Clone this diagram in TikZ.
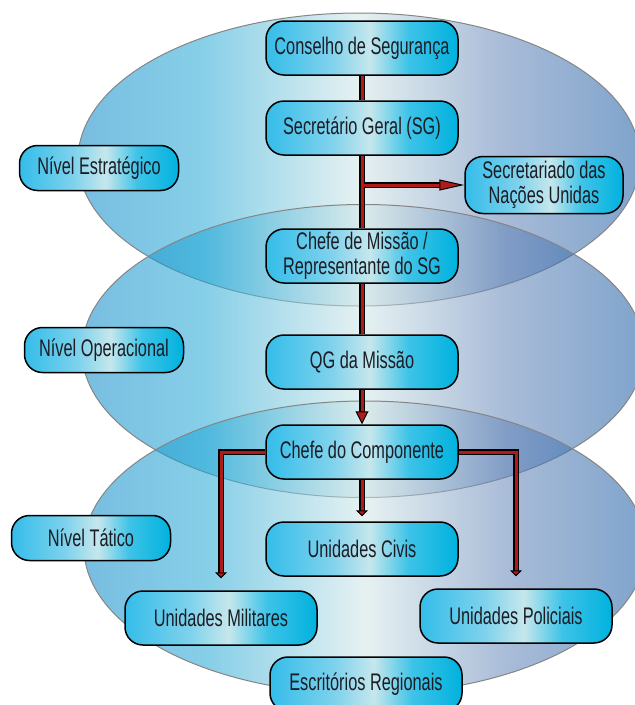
\documentclass[tikz,border=0pt]{standalone}
\usepackage{fontspec}
\setmainfont[FakeStretch=0.68]{Liberation Sans}
\usetikzlibrary{arrows.meta}
\definecolor{e0}{HTML}{0987C7}
\definecolor{e1}{HTML}{23A7D5}
\definecolor{e2}{HTML}{D1E6E6}
\definecolor{e3}{HTML}{6385B8}
\definecolor{e4}{HTML}{1658A2}
\definecolor{b0}{HTML}{34BDEA}
\definecolor{b1}{HTML}{7FD2EC}
\definecolor{b2}{HTML}{C6E7EC}
\definecolor{b3}{HTML}{3EC3E8}
\definecolor{b4}{HTML}{00B2DE}
\definecolor{linkred}{HTML}{B01A1A}
\definecolor{ink}{HTML}{1C1C24}
\definecolor{ellborder}{HTML}{858585}
\pgfdeclarehorizontalshading{ellshade}{100bp}{color(0bp)=(e0); color(25bp)=(e0); color(36bp)=(e1); color(50bp)=(e2); color(62.5bp)=(e3); color(75bp)=(e4); color(100bp)=(e4)}
\pgfdeclarehorizontalshading{boxshade}{100bp}{color(0bp)=(b0); color(25bp)=(b0); color(42bp)=(b1); color(52bp)=(b2); color(62bp)=(b3); color(75bp)=(b4); color(100bp)=(b4)}
\tikzset{
  ell/.style={shading=ellshade, fill opacity=0.55, draw=ellborder, line width=1pt},
  box/.style={shading=boxshade, draw=black, line width=1.5pt, rounded corners=18pt,
    minimum width=192pt, minimum height=54pt, inner sep=2pt, align=center,
    text=ink, font=\fontsize{24}{25}\selectfont},
  lvl/.style={box, minimum width=159pt, minimum height=45pt},
  link/.style={draw=black, line width=1.2pt, double=linkred, double distance=3pt},
  bigtip/.style={-{Triangle[length=13pt,width=13pt,line width=1pt,fill=linkred]}},
  flattip/.style={-{Triangle[length=6pt,width=12pt,line width=1pt,fill=linkred]}},
  longtip/.style={-{Triangle[length=25pt,width=11pt,line width=1pt,fill=linkred]}}
}
\begin{document}
\begin{tikzpicture}[x=1pt,y=-1pt]
\useasboundingbox (0,0) rectangle (635,705);
% level ellipses
\path[ell] (359,159.5) ellipse [x radius=281pt, y radius=146.5pt];
\path[ell] (363,351) ellipse [x radius=281pt, y radius=146.5pt];
\path[ell] (365,547.5) ellipse [x radius=281pt, y radius=146.5pt];
% nodes
\node[box] (cons) at (362,48) {Conselho de Segurança};
\node[box] (sg) at (362,128) {Secretário Geral (SG)};
\node[box, minimum width=158pt, minimum height=57pt] (sec) at (544,185) {Secretariado das\\Nações Unidas};
\node[box] (chm) at (362,256) {Chefe de Missão /\\Representante do SG};
\node[box] (qg) at (362,362) {QG da Missão};
\node[box] (chc) at (362,452) {Chefe do Componente};
\node[box] (civ) at (362,549) {Unidades Civis};
\node[box] (mil) at (221,618) {Unidades Militares};
\node[box] (pol) at (516,616) {Unidades Policiais};
\node[box] (esc) at (366,684) {Escritórios Regionais};
\node[lvl] (ne) at (99,168) {Nível Estratégico};
\node[lvl] (no) at (104,350) {Nível Operacional};
\node[lvl] (nt) at (91,538) {Nível Tático};
% connectors
\coordinate (br) at (363.5,185);
\draw[link] (cons) -- (sg);
\draw[link] (sg) -- (chm);
\draw[link, longtip] (br) -- (sec.west);
\draw[link] (chm) -- (qg);
\draw[link, bigtip] (qg) -- (chc);
\draw[link, flattip, shorten >=5pt] (chc) -- (civ);
\draw[link, flattip, shorten >=12pt] (chc.west) -| (mil.north);
\draw[link, flattip, shorten >=12pt] (chc.east) -| (pol.north);
\end{tikzpicture}
\end{document}
